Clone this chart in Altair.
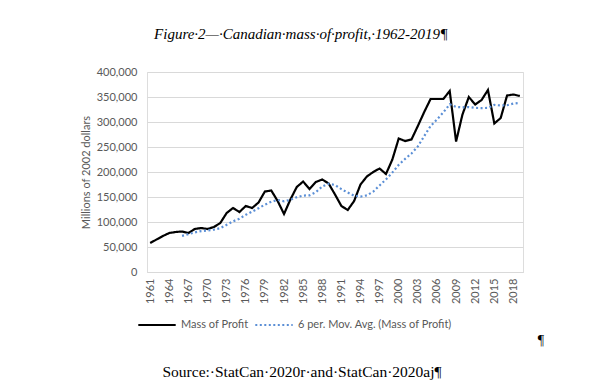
import altair as alt
import pandas as pd

years = [1961, 1962, 1963, 1964, 1965, 1966, 1967, 1968, 1969, 1970,
         1971, 1972, 1973, 1974, 1975, 1976, 1977, 1978, 1979, 1980,
         1981, 1982, 1983, 1984, 1985, 1986, 1987, 1988, 1989, 1990,
         1991, 1992, 1993, 1994, 1995, 1996, 1997, 1998, 1999, 2000,
         2001, 2002, 2003, 2004, 2005, 2006, 2007, 2008, 2009, 2010,
         2011, 2012, 2013, 2014, 2015, 2016, 2017, 2018, 2019]
profit = [58000, 65000, 72000, 78000, 80000, 81000, 78000, 86000, 88000, 86000,
          90000, 98000, 118000, 128000, 120000, 132000, 128000, 139000, 161000, 163000,
          142000, 116000, 145000, 170000, 181000, 166000, 180000, 185000, 177000, 155000,
          132000, 124000, 142000, 175000, 191000, 200000, 207000, 196000, 225000, 267000,
          262000, 265000, 292000, 320000, 346000, 346000, 346000, 362000, 261000, 315000,
          350000, 335000, 344000, 364000, 297000, 308000, 353000, 355000, 352000]
x_ticks = [1961, 1964, 1967, 1970, 1973, 1976, 1979, 1982, 1985, 1988, 1991, 1994,
           1997, 2000, 2003, 2006, 2009, 2012, 2015, 2018]
y_ticks = [0, 50000, 100000, 150000, 200000, 250000, 300000, 350000, 400000]
series_names = ["Mass of Profit", "6 per. Mov. Avg. (Mass of Profit)"]
series_colors = ["#000000", "#5B8FD6"]
title_text = "Figure·2—·Canadian·mass·of·profit,·1962-2019¶"
source_text = "Source:·StatCan·2020r·and·StatCan·2020aj¶"

df = pd.DataFrame({"year": years, "value": profit})

FONT = "Lato"
GRAY = "#595959"

x_axis = alt.Axis(values=x_ticks, format="d", labelAngle=-90, ticks=False,
                  grid=False, domainColor="#D9D9D9", labelColor=GRAY,
                  labelFont=FONT, labelFontSize=11, labelPadding=6, title=None)
y_axis = alt.Axis(values=y_ticks, format=",.0f", ticks=False, domain=False,
                  gridColor="#D9D9D9", labelColor=GRAY, labelFont=FONT,
                  labelFontSize=11, labelPadding=10,
                  title="Millions of 2002 dollars", titleFont=FONT,
                  titleFontSize=11, titleFontWeight="normal",
                  titleColor=GRAY, titlePadding=5)
x_scale = alt.Scale(domain=[1960.5, 2019.5], nice=False, zero=False)
y_scale = alt.Scale(domain=[0, 400000], nice=False)

color_scale = alt.Scale(domain=series_names, range=series_colors)
dash_scale = alt.Scale(domain=series_names, range=[[1, 0], [2, 2.5]])
legend = alt.Legend(orient="none", legendX=-10, legendY=233, direction="horizontal",
                    title=None, symbolType="stroke", symbolSize=1400,
                    symbolStrokeWidth=2, labelFont=FONT, labelFontSize=11,
                    labelColor=GRAY, columnPadding=2, labelOffset=4)

base = alt.Chart(df)

line = base.transform_calculate(series="'" + series_names[0] + "'").mark_line(
    strokeWidth=2.2).encode(
    x=alt.X("year:Q", scale=x_scale, axis=x_axis),
    y=alt.Y("value:Q", scale=y_scale, axis=y_axis),
    color=alt.Color("series:N", scale=color_scale, legend=legend),
    strokeDash=alt.StrokeDash("series:N", scale=dash_scale, legend=legend),
)

ma = base.transform_window(
    ma="mean(value)", n="count()", frame=[-5, 0], sort=[alt.SortField("year")]
).transform_filter("datum.n == 6").transform_calculate(
    series="'" + series_names[1] + "'"
).mark_line(strokeWidth=2.2).encode(
    x=alt.X("year:Q", scale=x_scale, axis=x_axis),
    y=alt.Y("ma:Q", scale=y_scale, axis=y_axis),
    color=alt.Color("series:N", scale=color_scale, legend=legend),
    strokeDash=alt.StrokeDash("series:N", scale=dash_scale, legend=legend),
)

txt = pd.DataFrame({"t": [title_text]})
title = alt.Chart(txt).mark_text(font="Liberation Serif", fontStyle="italic",
                                 fontSize=15, color="#000000", align="center",
                                 baseline="alphabetic").encode(
    text="t:N", x=alt.value(154), y=alt.value(-33))

src = pd.DataFrame({"t": [source_text]})
source = alt.Chart(src).mark_text(font="Liberation Serif", fontSize=15.5,
                                  color="#000000", align="center",
                                  baseline="alphabetic").encode(
    text="t:N", x=alt.value(155), y=alt.value(305))

pil = pd.DataFrame({"t": ["¶"]})
pilcrow = alt.Chart(pil).mark_text(font="Liberation Serif", fontSize=14,
                                   color="#000000", align="center",
                                   baseline="alphabetic").encode(
    text="t:N", x=alt.value(394), y=alt.value(273))

chart = alt.layer(line, ma, title, source, pilcrow).properties(
    width=376, height=200,
    autosize=alt.AutoSizeParams(type="none"),
    padding={"left": 139, "top": 64, "right": 71, "bottom": 108},
).configure_view(stroke=None).configure(background="white")

chart.save("out.html", embed_options={"renderer": "svg", "actions": False})
